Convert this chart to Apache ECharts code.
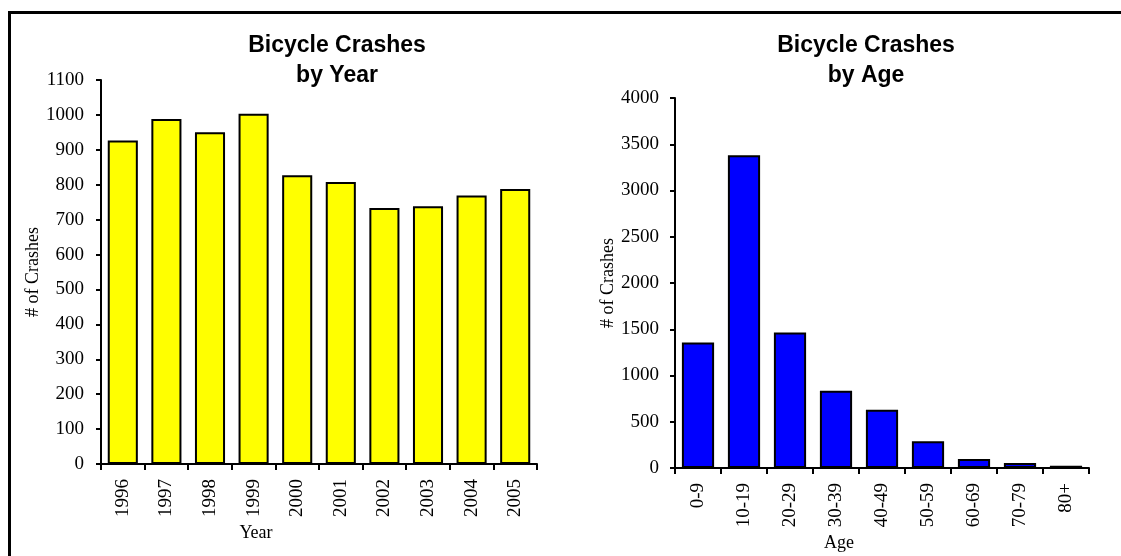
<!DOCTYPE html>
<html>
<head>
<meta charset="utf-8">
<script src="https://cdn.jsdelivr.net/npm/echarts@6/dist/echarts.min.js"></script>
<style>
html,body{margin:0;padding:0;background:#fff;}
#c{width:1121px;height:556px;}
</style>
</head>
<body>
<div id="c"></div>
<script>
const yearCategories = ['1996','1997','1998','1999','2000','2001','2002','2003','2004','2005'];
const yearValues = [927, 988, 950, 1003, 827, 808, 733, 738, 769, 788];
const ageCategories = ['0-9','10-19','20-29','30-39','40-49','50-59','60-69','70-79','80+'];
const ageValues = [1356, 3380, 1464, 835, 629, 288, 97, 54, 25];

const serif = '"Liberation Serif", "Times New Roman", serif';
const sans = '"Liberation Sans", Arial, sans-serif';

const chart = echarts.init(document.getElementById('c'), null, {renderer: 'canvas'});

function yAx(gi, max, interval, gap, margin) {
  return {
    type: 'value', gridIndex: gi, min: 0, max: max, interval: interval,
    name: '# of Crashes', nameLocation: 'middle', nameGap: gap,
    nameTextStyle: {fontFamily: serif, fontSize: 18, color: '#000'},
    axisLine: {show: true, lineStyle: {color: '#000', width: 2}},
    axisTick: {show: true, length: 5, lineStyle: {color: '#000', width: 2}},
    axisLabel: {fontFamily: serif, fontSize: 19, color: '#000', margin: margin,
                formatter: function (v) { return String(v); }},
    splitLine: {show: false}
  };
}
function xAx(gi, cats) {
  return {
    type: 'category', gridIndex: gi, data: cats,
    axisLine: {show: true, lineStyle: {color: '#000', width: 2}},
    axisTick: {show: true, length: 6, alignWithLabel: false, lineStyle: {color: '#000', width: 2}},
    axisLabel: {rotate: 90, fontFamily: serif, fontSize: 19, color: '#000', margin: 15, interval: 0}
  };
}

chart.setOption({
  animation: false,
  backgroundColor: '#fff',
  title: [
    {text: 'Bicycle Crashes\nby Year', left: 332, top: 26, textAlign: 'center',
     textStyle: {fontFamily: sans, fontSize: 23, fontWeight: 'bold', color: '#000', lineHeight: 30}},
    {text: 'Bicycle Crashes\nby Age', left: 861, top: 26, textAlign: 'center',
     textStyle: {fontFamily: sans, fontSize: 23, fontWeight: 'bold', color: '#000', lineHeight: 30}}
  ],
  grid: [
    {left: 101, top: 80, right: 584, bottom: 92, containLabel: false},
    {left: 675, top: 98, right: 32, bottom: 88, containLabel: false}
  ],
  xAxis: [xAx(0, yearCategories), xAx(1, ageCategories)],
  yAxis: [yAx(0, 1100, 100, 48, 17), yAx(1, 4000, 500, 58, 16)],
  series: [
    {type: 'bar', xAxisIndex: 0, yAxisIndex: 0, data: yearValues, barCategoryGap: '31%',
     itemStyle: {color: '#FFFF00', borderColor: '#000', borderWidth: 2}},
    {type: 'bar', xAxisIndex: 1, yAxisIndex: 1, data: ageValues, barCategoryGap: '30%',
     itemStyle: {color: '#0000FF', borderColor: '#000', borderWidth: 2}}
  ],
  graphic: [
    {type: 'rect', shape: {x: 9.5, y: 12.5, width: 1300, height: 700},
     style: {fill: 'none', stroke: '#000', lineWidth: 3}, silent: true},
    {type: 'text', x: 256, y: 533, style: {text: 'Year', font: '18px ' + serif, fill: '#000', textAlign: 'center', textVerticalAlign: 'middle'}},
    {type: 'text', x: 839, y: 543, style: {text: 'Age', font: '18px ' + serif, fill: '#000', textAlign: 'center', textVerticalAlign: 'middle'}}
  ]
});
</script>
</body>
</html>
